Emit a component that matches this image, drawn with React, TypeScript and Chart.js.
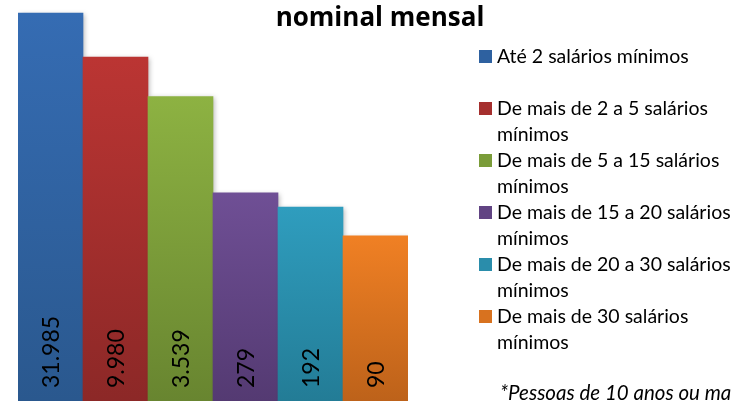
import React, { useEffect, useRef } from "react";
import { Chart, registerables } from "chart.js";

Chart.register(...registerables);

const categories = [
  "Até 2 salários mínimos",
  "De mais de 2 a 5 salários mínimos",
  "De mais de 5 a 15 salários mínimos",
  "De mais de 15 a 20 salários mínimos",
  "De mais de 20 a 30 salários mínimos",
  "De mais de 30 salários mínimos",
];
const values = [31985, 9980, 3539, 279, 192, 90];
const valueLabels = ["31.985", "9.980", "3.539", "279", "192", "90"];
const titleText = "nominal mensal";
const noteText = "*Pessoas de 10 anos ou mais de idade";

const topColors = ["#356cb3", "#bb3533", "#8db242", "#6f4f95", "#2f9dbe", "#f08024"];
const bottomColors = ["#2a588e", "#8c2827", "#688530", "#543a72", "#237c96", "#bd621a"];
const legendColors = ["#2e61a0", "#a52f2e", "#7a9c39", "#614483", "#2a8dab", "#d8721f"];

const FONT = "Lato, 'Noto Sans', sans-serif";

export default function App() {
  const ref = useRef<HTMLCanvasElement | null>(null);

  useEffect(() => {
    document.body.style.margin = "0";
    const canvas = ref.current!;
    const shadowPlugin = {
      id: "barShadow",
      beforeDatasetDraw(chart: any) {
        const ctx = chart.ctx;
        ctx.save();
        ctx.shadowColor = "rgba(0,0,0,0.28)";
        ctx.shadowBlur = 5;
        ctx.shadowOffsetX = 2;
        ctx.shadowOffsetY = 1;
      },
      afterDatasetDraw(chart: any) {
        chart.ctx.restore();
      },
    };
    const labelPlugin = {
      id: "valueLabels",
      afterDatasetsDraw(chart: any) {
        const ctx = chart.ctx;
        const meta = chart.getDatasetMeta(0);
        ctx.save();
        ctx.fillStyle = "#000";
        ctx.font = `23px ${FONT}`;
        ctx.textAlign = "left";
        ctx.textBaseline = "middle";
        meta.data.forEach((bar: any, i: number) => {
          ctx.save();
          ctx.translate(bar.x + 1, 388);
          ctx.rotate(-Math.PI / 2);
          ctx.fillText(valueLabels[i], 0, 0);
          ctx.restore();
        });
        ctx.restore();
      },
    };
    const chart = new Chart(canvas, {
      type: "bar",
      data: {
        labels: categories,
        datasets: [
          {
            data: values,
            borderWidth: 0,
            backgroundColor: (c: any) => {
              const ch = c.chart;
              const i = c.dataIndex;
              const area = ch.chartArea;
              const ys = ch.scales.y;
              if (!area || !ys || i === undefined) return topColors[i ?? 0];
              const top = ys.getPixelForValue(values[i]);
              const g = ch.ctx.createLinearGradient(0, top, 0, area.bottom);
              g.addColorStop(0, topColors[i]);
              g.addColorStop(1, bottomColors[i]);
              return g;
            },
            categoryPercentage: 1,
            barPercentage: 1,
          },
        ],
      },
      options: {
        animation: false,
        responsive: false,
        devicePixelRatio: 1,
        layout: { padding: { left: 18, right: 323, top: 0, bottom: 0 } },
        plugins: { legend: { display: false }, title: { display: false }, tooltip: { enabled: false } },
        scales: {
          x: { display: false },
          y: { type: "logarithmic", display: false, min: 1.162, max: 45000 },
        },
      },
      plugins: [shadowPlugin, labelPlugin],
    });
    return () => chart.destroy();
  }, []);

  return (
    <div
      style={{
        position: "fixed",
        left: 0,
        top: 0,
        width: 731,
        height: 401,
        overflow: "hidden",
        background: "#fff",
        fontFamily: FONT,
        color: "#000",
      }}
    >
      <canvas ref={ref} width={731} height={401} style={{ position: "absolute", left: 0, top: 0 }} />
      <div
        style={{
          position: "absolute",
          left: 230,
          width: 300,
          top: -1,
          textAlign: "center",
          fontFamily: "'Open Sans', Lato, sans-serif",
          fontWeight: 700,
          fontSize: 26,
          lineHeight: "34px",
        }}
      >
        {titleText}
      </div>
      {categories.map((c, i) => (
        <div key={c} style={{ position: "absolute", left: 479, top: 43 + 52 * i, width: 260 }}>
          <div
            style={{
              position: "absolute",
              left: 0,
              top: 7,
              width: 13,
              height: 13,
              background: legendColors[i],
            }}
          />
          <div style={{ position: "absolute", left: 18, top: 0, width: 245, fontSize: 19.5, lineHeight: "26px" }}>{c}</div>
        </div>
      ))}
      <div
        style={{
          position: "absolute",
          left: 500,
          top: 379,
          whiteSpace: "nowrap",
          fontStyle: "italic",
          fontSize: 20.5,
          lineHeight: "26px",
        }}
      >
        {noteText}
      </div>
    </div>
  );
}
